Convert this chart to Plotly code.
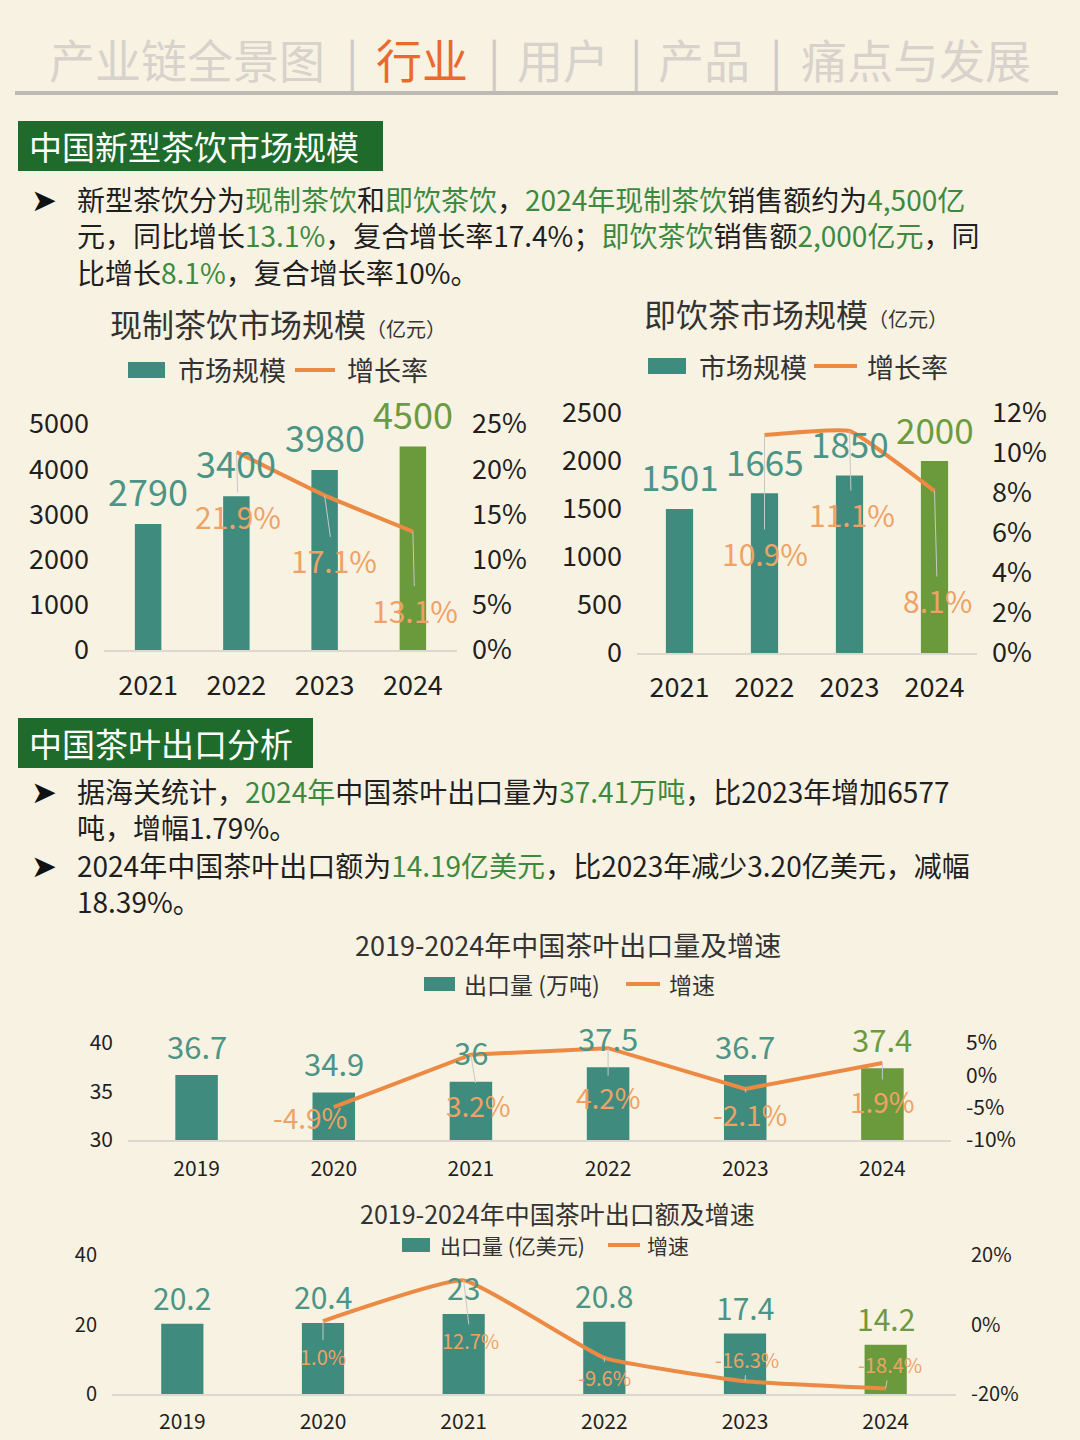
import plotly.graph_objects as go

# ---------------- data ----------------
fresh_years = ['2021', '2022', '2023', '2024']
fresh_size = [2790, 3400, 3980, 4500]
fresh_rate = [None, 21.9, 17.1, 13.1]

rtd_years = ['2021', '2022', '2023', '2024']
rtd_size = [1501, 1665, 1850, 2000]
rtd_rate = [None, 10.9, 11.1, 8.1]

exp_years = ['2019', '2020', '2021', '2022', '2023', '2024']
exp_volume = [36.7, 34.9, 36, 37.5, 36.7, 37.4]
exp_volume_rate = [None, -4.9, 3.2, 4.2, -2.1, 1.9]
exp_value = [20.2, 20.4, 23, 20.8, 17.4, 14.2]
exp_value_rate = [None, 1.0, 12.7, -9.6, -16.3, -18.4]

vol_rate_ticks = [-10, -5, 0, 5]
vol_rate_ticklabels = ['-10%', '-5%', '0%', '5%']
val_rate_ticks = [-20, 0, 20]
val_rate_ticklabels = ['-20%', '0%', '20%']

# ---------------- style ----------------
W, H = 1080, 1440
BG = '#F8F2E3'
TEAL = '#3F8C7E'
GREEN_BAR = '#6A9A3C'
ORANGE = '#EC8A44'
ORANGE_LBL = '#EFA265'
TEAL_LBL = '#4C9486'
GREEN_LBL = '#6B9B3E'
TXT = '#1F1F1F'
HDR_GREEN = '#1E6B2B'
TXT_GREEN = '#3D8A3F'
FONT = 'Noto Sans CJK SC'


def px(x):
    return x / W


def py(y):
    return 1 - y / H


def bar_colors(n):
    return [TEAL] * (n - 1) + [GREEN_BAR]


fig = go.Figure()
annotations = []
shapes = []

charts = [
    dict(years=fresh_years, vals=fresh_size, rate=fresh_rate, xd=(104, 457), yd=(650, 424),
         lrange=[0, 5000], ldtick=1000, rrange=[0, 25], rdtick=5, width=0.3,
         tfs=27, xfs=27, vfs=36, rfs=30, vshift=34, lw=4, shape='spline', xstand=11, ystand=14,
         roff=[None, (2, 64), (9, 65), (2, 78)], rticks=None),
    dict(years=rtd_years, vals=rtd_size, rate=rtd_rate, xd=(637, 977), yd=(653, 413),
         lrange=[0, 2500], ldtick=500, rrange=[0, 12], rdtick=2, width=0.32,
         tfs=27, xfs=27, vfs=35, rfs=30, vshift=33, lw=4, shape='spline', xstand=10, ystand=14,
         roff=[None, (0, 118), (2, 83), (3, 109)], rticks=None),
    dict(years=exp_years, vals=exp_volume, rate=exp_volume_rate, xd=(128, 951), yd=(1140, 1043),
         lrange=[30, 40], ldtick=5, rrange=[-10, 5], rdtick=5, width=0.31,
         tfs=21, xfs=21, vfs=31, rfs=28, vshift=30, lw=4, shape='linear', xstand=9, ystand=14,
         roff=[None, (-24, 10), (8, 50), (0, 49), (5, 25), (0, 38)],
         rticks=(vol_rate_ticks, vol_rate_ticklabels)),
    dict(years=exp_years, vals=exp_value, rate=exp_value_rate, xd=(112, 956), yd=(1394, 1255),
         lrange=[0, 40], ldtick=20, rrange=[-20, 20], rdtick=20, width=0.3,
         tfs=20, xfs=21, vfs=30, rfs=20, vshift=27, lw=4, shape='spline', xstand=8, ystand=14,
         roff=[None, (0, 35), (7, 60), (0, 20), (2, -22), (4, -24)],
         rticks=(val_rate_ticks, val_rate_ticklabels)),
]

layout_axes = {}
for i, c in enumerate(charts):
    xi = i + 1
    yl = 2 * i + 1
    yr = 2 * i + 2
    xname = 'x' if xi == 1 else f'x{xi}'
    ylname = 'y' if yl == 1 else f'y{yl}'
    yrname = f'y{yr}'
    n = len(c['years'])
    fig.add_trace(go.Bar(x=c['years'], y=c['vals'], xaxis=xname, yaxis=ylname,
                         marker=dict(color=bar_colors(n), line=dict(width=0)),
                         width=c['width'], showlegend=False, hoverinfo='skip'))
    fig.add_trace(go.Scatter(x=c['years'], y=c['rate'], xaxis=xname, yaxis=yrname,
                             mode='lines', line=dict(color=ORANGE, width=c['lw'], shape=c['shape'], smoothing=0.35),
                             showlegend=False, hoverinfo='skip', cliponaxis=False))
    layout_axes['xaxis' if xi == 1 else f'xaxis{xi}'] = dict(
        domain=[px(c['xd'][0]), px(c['xd'][1])], anchor=ylname, type='category',
        categoryorder='array', categoryarray=c['years'], automargin=False,
        showgrid=False, zeroline=False, showline=True, linecolor='#DCD8D0', linewidth=1.5,
        ticks='', ticklabelstandoff=c['xstand'], tickfont=dict(family=FONT, size=c['xfs'], color=TXT),
        range=[-0.5, n - 0.5], fixedrange=True)
    layout_axes['yaxis' if yl == 1 else f'yaxis{yl}'] = dict(
        domain=[py(c['yd'][0]), py(c['yd'][1])], anchor=xname, range=c['lrange'], dtick=c['ldtick'],
        tick0=c['lrange'][0], showgrid=False, zeroline=False, showline=False, ticks='', automargin=False,
        ticklabelstandoff=c['ystand'], tickfont=dict(family=FONT, size=c['tfs'], color=TXT))
    right = dict(
        overlaying=ylname, anchor=xname, side='right', range=c['rrange'],
        showgrid=False, zeroline=False, showline=False, ticks='', automargin=False,
        ticklabelstandoff=c['ystand'], tickfont=dict(family=FONT, size=c['tfs'], color=TXT))
    if c['rticks'] is None:
        right.update(dtick=c['rdtick'], tick0=c['rrange'][0], ticksuffix='%')
    else:
        right.update(tickmode='array', tickvals=c['rticks'][0], ticktext=c['rticks'][1])
    layout_axes[f'yaxis{yr}'] = right
    # value labels (x given as category index on the category axis)
    for j, v in enumerate(c['vals']):
        annotations.append(dict(x=j, y=v, xref=xname, yref=ylname, text=f'{v:g}', showarrow=False,
                                yshift=c['vshift'], yanchor='middle',
                                font=dict(family=FONT, size=c['vfs'], color=GREEN_LBL if j == n - 1 else TEAL_LBL)))
    # rate labels with leader lines
    for j, r in enumerate(c['rate']):
        if r is None:
            continue
        ax, ay = c['roff'][j]
        annotations.append(dict(x=j, y=r, xref=xname, yref=yrname, text=f'{r:.1f}%', showarrow=True,
                                arrowhead=0, arrowwidth=1, arrowcolor='#C8C8C8', ax=ax, ay=ay, standoff=0,
                                font=dict(family=FONT, size=c['rfs'], color=ORANGE_LBL)))

# ---------------- header ----------------
hdr = [('产业链全景图', 187, '#D8D2CC'), ('|', 352, '#CFC9C3'), ('行业', 422, '#EA6A2E'),
       ('|', 494, '#CFC9C3'), ('用户', 563, '#D8D2CC'), ('|', 636, '#CFC9C3'),
       ('产品', 704, '#D8D2CC'), ('|', 776, '#CFC9C3'), ('痛点与发展', 916, '#D8D2CC')]
for t, x, col in hdr:
    annotations.append(dict(x=px(x), y=py(58), xref='paper', yref='paper', text=t, showarrow=False,
                            xanchor='center', yanchor='middle',
                            font=dict(family=FONT, size=46, color=col)))
shapes.append(dict(type='line', xref='paper', yref='paper', x0=px(15), x1=px(1058), y0=py(93), y1=py(93),
                   line=dict(color='#BDBAB5', width=4)))

# ---------------- section boxes ----------------
for (x0, y0, x1, y1, t) in [(18, 121, 383, 171, '中国新型茶饮市场规模'), (18, 718, 313, 768, '中国茶叶出口分析')]:
    shapes.append(dict(type='rect', xref='paper', yref='paper', x0=px(x0), x1=px(x1), y0=py(y1), y1=py(y0),
                       fillcolor=HDR_GREEN, line=dict(width=0)))
    annotations.append(dict(x=px(x0 + 9), y=py((y0 + y1) / 2), xref='paper', yref='paper', text=t,
                            showarrow=False, xanchor='left', yanchor='middle',
                            font=dict(family=FONT, size=33, color='white')))


def g(s):
    return f"<span style='color:{TXT_GREEN}'>{s}</span>"


paragraphs = [
    (200, ['新型茶饮分为' + g('现制茶饮') + '和' + g('即饮茶饮') + '，' + g('2024年现制茶饮') + '销售额约为' + g('4,500亿'),
           '元，同比增长' + g('13.1%') + '，复合增长率17.4%；' + g('即饮茶饮') + '销售额' + g('2,000亿元') + '，同',
           '比增长' + g('8.1%') + '，复合增长率10%。']),
    (792, ['据海关统计，' + g('2024年') + '中国茶叶出口量为' + g('37.41万吨') + '，比2023年增加6577',
           '吨，增幅1.79%。']),
    (866, ['2024年中国茶叶出口额为' + g('14.19亿美元') + '，比2023年减少3.20亿美元，减幅',
           '18.39%。']),
]
FS_BODY = 28
for y, lines in paragraphs:
    # y is the centre of the first line
    annotations.append(dict(x=px(75), y=py(y - 23), xref='paper', yref='paper',
                            text='<br>'.join(lines), showarrow=False, align='left',
                            xanchor='left', yanchor='top', font=dict(family=FONT, size=FS_BODY, color=TXT)))
    annotations.append(dict(x=px(44), y=py(y), xref='paper', yref='paper', text='➤', showarrow=False,
                            xanchor='center', yanchor='middle',
                            font=dict(family='DejaVu Sans', size=31, color='#111111')))

# ---------------- chart titles ----------------
annotations.append(dict(x=px(108), y=py(323), xref='paper', yref='paper', showarrow=False, xanchor='left',
                        yanchor='middle', text="现制茶饮市场规模<span style='font-size:20px'>（亿元）</span>",
                        font=dict(family=FONT, size=32, color='#333333')))
annotations.append(dict(x=px(642), y=py(313), xref='paper', yref='paper', showarrow=False, xanchor='left',
                        yanchor='middle', text="即饮茶市场规模<span style='font-size:20px'>（亿元）</span>",
                        font=dict(family=FONT, size=32, color='#333333')))
annotations.append(dict(x=px(568), y=py(944), xref='paper', yref='paper', showarrow=False, xanchor='center',
                        yanchor='middle', text='2019-2024年中国茶叶出口量及增速',
                        font=dict(family=FONT, size=27, color='#333333')))
annotations.append(dict(x=px(557), y=py(1213), xref='paper', yref='paper', showarrow=False, xanchor='center',
                        yanchor='middle', text='2019-2024年中国茶叶出口额及增速',
                        font=dict(family=FONT, size=25, color='#333333')))

# ---------------- legends ----------------
legends = [
    (128, 165, 370, 16, 176, '市场规模', 295, 335, 345, '增长率', 27),
    (648, 686, 366, 16, 697, '市场规模', 814, 857, 865, '增长率', 27),
    (424, 455, 984, 14, 462, '出口量 (万吨)', 626, 660, 667, '增速', 23),
    (402, 430, 1245, 14, 438, '出口量 (亿美元)', 608, 640, 645, '增速', 21),
]
for rx0, rx1, yc, rh, t1x, t1, lx0, lx1, t2x, t2, fs in legends:
    shapes.append(dict(type='rect', xref='paper', yref='paper', x0=px(rx0), x1=px(rx1),
                       y0=py(yc + rh / 2), y1=py(yc - rh / 2), fillcolor=TEAL, line=dict(width=0)))
    shapes.append(dict(type='line', xref='paper', yref='paper', x0=px(lx0), x1=px(lx1), y0=py(yc), y1=py(yc),
                       line=dict(color=ORANGE, width=4)))
    for tx, tt in [(t1x, t1), (t2x, t2)]:
        annotations.append(dict(x=px(tx), y=py(yc), xref='paper', yref='paper', text=tt, showarrow=False,
                                xanchor='left', yanchor='middle', font=dict(family=FONT, size=fs, color='#333333')))

fig.update_layout(width=W, height=H, margin=dict(l=0, r=0, t=0, b=0, autoexpand=False),
                  paper_bgcolor=BG, plot_bgcolor=BG,
                  annotations=annotations, shapes=shapes, bargap=0.5, showlegend=False,
                  font=dict(family=FONT), **layout_axes)

fig.write_html('out.html', config={'displayModeBar': False})
